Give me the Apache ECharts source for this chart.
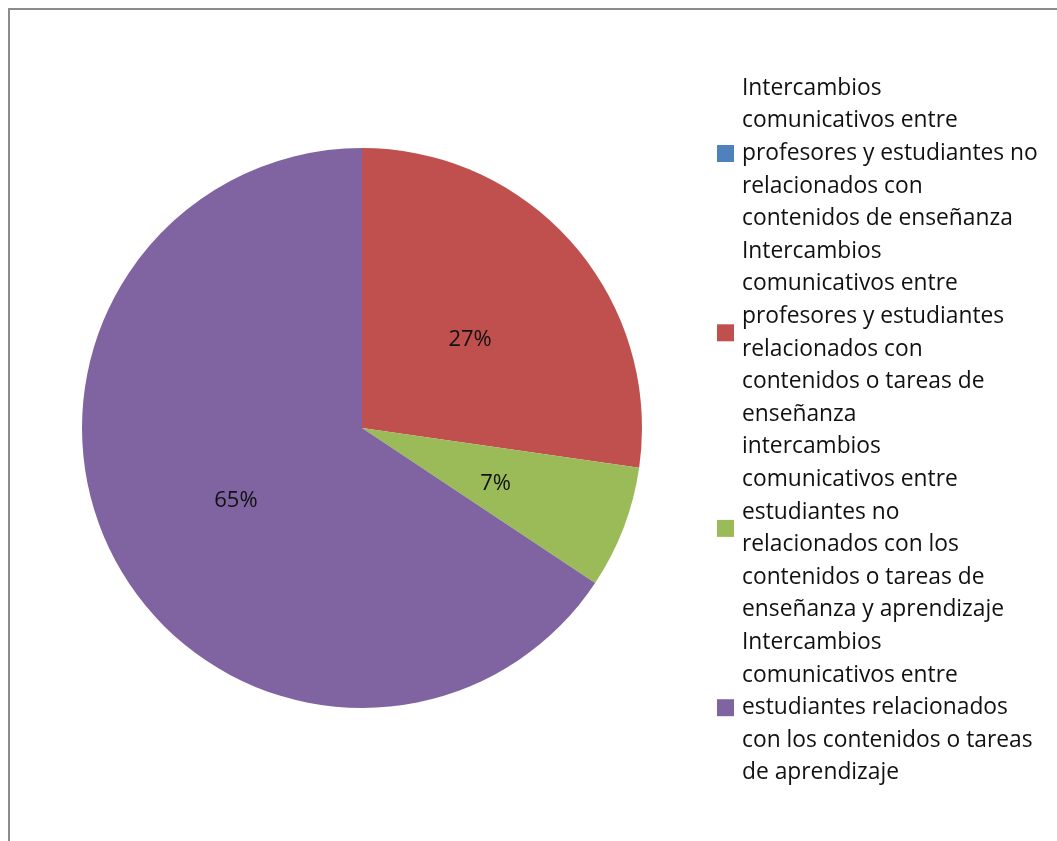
<!DOCTYPE html>
<html>
<head>
<meta charset="utf-8">
<script src="https://cdn.jsdelivr.net/npm/echarts@6/dist/echarts.min.js"></script>
<style>
html,body{margin:0;padding:0;background:#fff;}
#c{width:1057px;height:841px;}
</style>
</head>
<body>
<div id="c"></div>
<script>
var categories = [
  "Intercambios\ncomunicativos entre\nprofesores y estudiantes no\nrelacionados con\ncontenidos de enseñanza",
  "Intercambios\ncomunicativos entre\nprofesores y estudiantes\nrelacionados con\ncontenidos o tareas de\nenseñanza",
  "intercambios\ncomunicativos entre\nestudiantes no\nrelacionados con los\ncontenidos o tareas de\nenseñanza y aprendizaje",
  "Intercambios\ncomunicativos entre\nestudiantes relacionados\ncon los contenidos o tareas\nde aprendizaje"
];
var values = [0, 27, 7, 65];
var colors = ["#4f81bd", "#c0504d", "#9bbb59", "#8064a2"];

var chart = echarts.init(document.getElementById('c'), null, {renderer: 'canvas'});
var data = categories.map(function (n, i) {
  var d = {name: n, value: values[i], itemStyle: {color: colors[i]}};
  if (values[i] === 0) d.label = {show: false};
  return d;
});
chart.setOption({
  animation: false,
  backgroundColor: '#fff',
  graphic: [
    {type: 'line', shape: {x1: 8, y1: 9, x2: 1057, y2: 9}, style: {stroke: '#8c8c8c', lineWidth: 2}},
    {type: 'line', shape: {x1: 9, y1: 8, x2: 9, y2: 841}, style: {stroke: '#8c8c8c', lineWidth: 2}}
  ],
  legend: {
    orient: 'vertical',
    left: 717,
    top: 72,
    padding: 0,
    itemWidth: 17,
    itemHeight: 17,
    itemGap: 0,
    icon: 'rect',
    selectedMode: false,
    textStyle: {fontFamily: 'Open Sans', fontSize: 22.8, color: '#111', lineHeight: 32.6, padding: [0, 0, 0, 3]},
    data: categories
  },
  series: [{
    type: 'pie',
    center: [362, 428],
    radius: 280,
    startAngle: 90,
    clockwise: true,
    avoidLabelOverlap: false,
    itemStyle: {borderWidth: 0},
    emphasis: {disabled: true},
    label: {show: true, position: 'inside', formatter: '{c}%', color: '#111', fontFamily: 'Open Sans', fontSize: 22, offset: [0, 5]},
    labelLine: {show: false},
    data: data
  }]
});
</script>
</body>
</html>
